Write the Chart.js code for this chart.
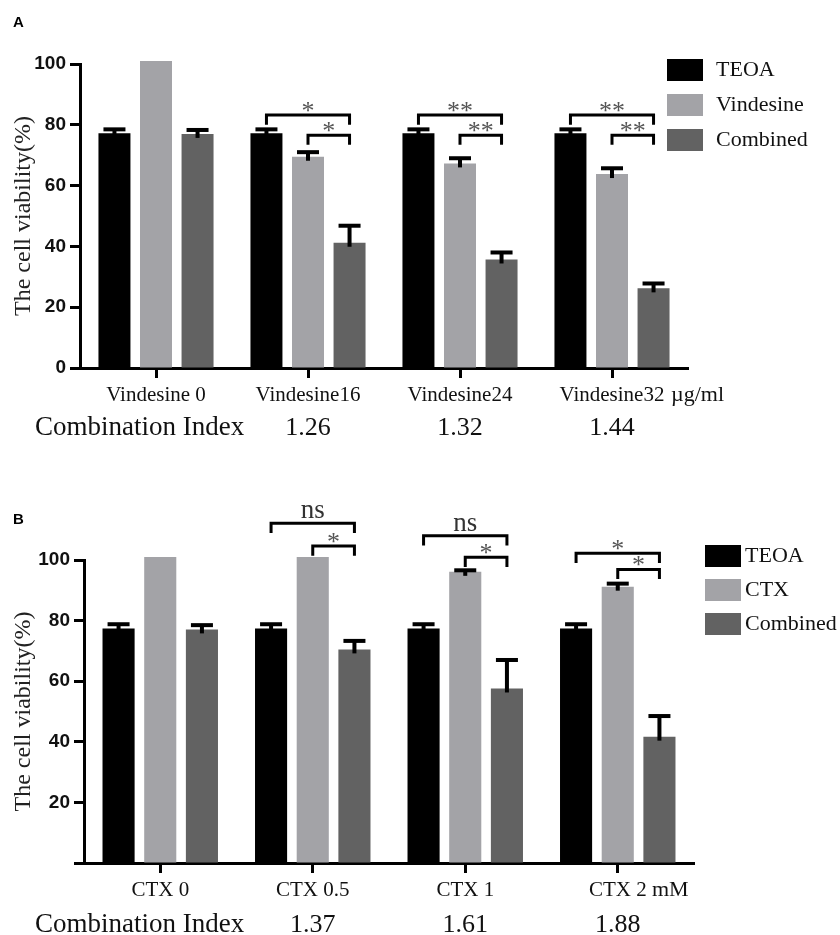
<!DOCTYPE html>
<html lang="en">
<head>
<meta charset="UTF-8">
<title>Cell viability - TEOA combinations</title>
<script src="https://cdn.jsdelivr.net/npm/chart.js"></script>
<style>
    body { margin: 0; background: #fff; width: 840px; height: 935px; overflow: hidden; }
    .panel { position: absolute; left: 0; }
    #panelA { top: 0; }
    #panelB { top: 440px; }
</style>
</head>
<body>

<div class="panel" id="panelA"><canvas id="chartA" width="840" height="440"></canvas></div>
<div class="panel" id="panelB"><canvas id="chartB" width="840" height="495"></canvas></div>

<script>
    // ---- panel A data ----
    const groupsA = ['Vindesine 0', 'Vindesine16', 'Vindesine24', 'Vindesine32'];
    const teoaA = [77.2, 77.2, 77.2, 77.2];
    const teoaErrA = [1.3, 1.3, 1.3, 1.3];
    const vindA = [101, 69.5, 67.3, 63.8];
    const vindErrA = [0, 1.5, 1.7, 1.9];
    const combA = [77.0, 41.2, 35.7, 26.2];
    const combErrA = [1.3, 5.6, 2.3, 1.6];
    const ciA = ['', '1.26', '1.32', '1.44'];
    const brGroupsA = [1, 2, 3];
    const brOuterA = [83.2, 83.2, 83.2];
    const brInnerA = [76.6, 76.6, 76.6];
    const markOuterA = ['*', '**', '**'];
    const markInnerA = ['*', '**', '**'];

    // ---- panel B data ----
    const groupsB = ['CTX 0', 'CTX 0.5', 'CTX 1', 'CTX 2'];
    const teoaB = [77.4, 77.4, 77.4, 77.4];
    const teoaErrB = [1.4, 1.4, 1.4, 1.4];
    const ctxB = [101, 101, 96.1, 91.2];
    const ctxErrB = [0, 0, 0.5, 1.0];
    const combB = [77.1, 70.5, 57.6, 41.7];
    const combErrB = [1.4, 2.8, 9.4, 6.8];
    const ciB = ['', '1.37', '1.61', '1.88'];
    const brGroupsB = [1, 2, 3];
    const brOuterB = [112.1, 108.0, 102.2];
    const brInnerB = [104.6, 100.9, 96.9];
    const markOuterB = ['ns', 'ns', '*'];
    const markInnerB = ['*', '*', '*'];

    const yTicks = [0, 20, 40, 60, 80, 100];

    const BLACK = '#000000', LIGHT = '#a3a3a7', DARK = '#626262';
    const SERIF = '"Liberation Serif", "Times New Roman", serif';
    const SANS = '"Liberation Sans", Arial, sans-serif';

    // error bars, brackets, legend and the extra texts
    const extras = {
        id: 'extras',
        afterDatasetsDraw(chart, args, o) {
            const ctx = chart.ctx, y = chart.scales.y;
            ctx.save();
            ctx.fillStyle = '#000';
            chart.data.datasets.forEach((ds, i) => {
                chart.getDatasetMeta(i).data.forEach((bar, j) => {
                    const e = ds.errors[j];
                    if (!e) return;
                    const top = y.getPixelForValue(ds.data[j] + e);
                    ctx.fillRect(bar.x - 2, top, 4, bar.y - top + 4);
                    ctx.fillRect(bar.x - 11, top - 2, 22, 4);
                });
            });

            // significance brackets
            const m0 = chart.getDatasetMeta(0).data, m1 = chart.getDatasetMeta(1).data, m2 = chart.getDatasetMeta(2).data;
            const leg = 3.2;
            const bracket = (xa, xb, v, mark) => {
                const yb = y.getPixelForValue(v), yl = y.getPixelForValue(v - leg);
                ctx.strokeStyle = '#000';
                ctx.lineWidth = 3;
                ctx.beginPath();
                ctx.moveTo(xa, yl);
                ctx.lineTo(xa, yb);
                ctx.lineTo(xb, yb);
                ctx.lineTo(xb, yl);
                ctx.stroke();
                ctx.textAlign = 'center';
                ctx.textBaseline = 'alphabetic';
                if (mark === 'ns') {
                    ctx.fillStyle = '#333';
                    ctx.font = '27px ' + SERIF;
                    ctx.fillText(mark, (xa + xb) / 2, yb - 5);
                } else {
                    ctx.fillStyle = '#555';
                    ctx.font = '26px ' + SERIF;
                    ctx.fillText(mark, (xa + xb) / 2, yb + 4);
                }
            };
            o.brGroups.forEach((g, k) => {
                bracket(m0[g].x, m2[g].x, o.brOuter[k], o.markOuter[k]);
                bracket(m1[g].x, m2[g].x, o.brInner[k], o.markInner[k]);
            });
            ctx.restore();
        },
        afterDraw(chart, args, o) {
            const ctx = chart.ctx, x = chart.scales.x;
            ctx.save();
            // panel letter
            ctx.fillStyle = '#000';
            ctx.font = 'bold 15px ' + SANS;
            ctx.textAlign = 'left';
            ctx.textBaseline = 'middle';
            ctx.fillText(o.letter, 13, o.letterY);

            // legend
            ctx.font = '22px ' + SERIF;
            chart.data.datasets.forEach((ds, i) => {
                const cy = o.legendY + i * o.legendStep;
                ctx.fillStyle = ds.backgroundColor;
                ctx.fillRect(o.legendX, cy - 11, 36, 22);
                ctx.fillStyle = '#111';
                ctx.fillText(ds.label, o.legendX + 36 + o.legendGap, cy);
            });

            // unit next to the last category
            ctx.font = '22px ' + SERIF;
            ctx.fillText(o.unit, o.unitX, o.unitY);

            // combination index row
            ctx.font = '27px ' + SERIF;
            ctx.fillText('Combination Index', 35, o.ciY);
            ctx.font = '26px ' + SERIF;
            ctx.textAlign = 'center';
            o.ci.forEach((v, i) => {
                if (v) ctx.fillText(v, x.getPixelForValue(i), o.ciY);
            });
            ctx.restore();
        }
    };

    function makeChart(id, cfg) {
        return new Chart(document.getElementById(id), {
            type: 'bar',
            data: {
                labels: cfg.labels,
                datasets: cfg.series.map(s => ({
                    label: s.label,
                    data: s.data,
                    errors: s.err,
                    backgroundColor: s.color,
                    borderWidth: 0,
                    clip: false,
                    categoryPercentage: 0.82,
                    barPercentage: 0.77
                }))
            },
            options: {
                responsive: false,
                animation: false,
                devicePixelRatio: 1,
                layout: { padding: { left: 0, right: cfg.rightPad, top: cfg.topPad, bottom: 0 } },
                scales: {
                    x: {
                        offset: true,
                        afterFit: s => { s.height = 72; },
                        border: { display: true, color: '#000', width: 3 },
                        grid: { display: true, offset: false, drawOnChartArea: false, tickLength: 10, tickWidth: 3, tickColor: '#000' },
                        ticks: { color: '#111', padding: 5, font: { family: SERIF, size: 21 } }
                    },
                    y: {
                        min: 0,
                        max: 100,
                        afterFit: s => { s.width = cfg.leftW; },
                        afterBuildTicks: s => { s.ticks = yTicks.map(v => ({ value: v })); },
                        border: { display: true, color: '#000', width: 3 },
                        grid: { display: true, drawOnChartArea: false, tickLength: 10, tickWidth: 3, tickColor: '#000' },
                        ticks: {
                            color: '#111',
                            padding: 4,
                            font: { family: SANS, size: 19, weight: 'bold' },
                            callback: v => (cfg.hideZero && v === 0) ? '' : v
                        },
                        title: {
                            display: true,
                            text: 'The cell viability(%)',
                            color: '#222',
                            padding: { top: 9, bottom: 0 },
                            font: { family: SERIF, size: 24 }
                        }
                    }
                },
                plugins: {
                    legend: { display: false },
                    tooltip: { enabled: false },
                    extras: cfg.extras
                }
            },
            plugins: [extras]
        });
    }

    makeChart('chartA', {
        labels: groupsA,
        leftW: 80, rightPad: 152, topPad: 64, hideZero: false,
        series: [
            { label: 'TEOA', data: teoaA, err: teoaErrA, color: BLACK },
            { label: 'Vindesine', data: vindA, err: vindErrA, color: LIGHT },
            { label: 'Combined', data: combA, err: combErrA, color: DARK }
        ],
        extras: {
            letter: 'A', letterY: 23,
            legendX: 667, legendY: 70, legendStep: 35, legendGap: 13,
            unit: 'µg/ml', unitX: 671, unitY: 395,
            ci: ciA, ciY: 428,
            brGroups: brGroupsA, brOuter: brOuterA, brInner: brInnerA,
            markOuter: markOuterA, markInner: markInnerA
        }
    });

    makeChart('chartB', {
        labels: groupsB,
        leftW: 84, rightPad: 146, topPad: 120, hideZero: true,
        series: [
            { label: 'TEOA', data: teoaB, err: teoaErrB, color: BLACK },
            { label: 'CTX', data: ctxB, err: ctxErrB, color: LIGHT },
            { label: 'Combined', data: combB, err: combErrB, color: DARK }
        ],
        extras: {
            letter: 'B', letterY: 80,
            legendX: 705, legendY: 116, legendStep: 34, legendGap: 4,
            unit: 'mM', unitX: 652, unitY: 450,
            ci: ciB, ciY: 485,
            brGroups: brGroupsB, brOuter: brOuterB, brInner: brInnerB,
            markOuter: markOuterB, markInner: markInnerB
        }
    });
</script>

</body>
</html>
